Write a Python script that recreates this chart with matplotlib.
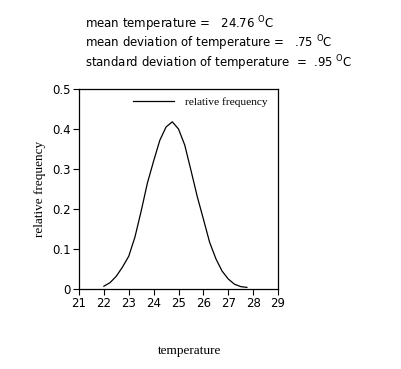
import numpy as np
import matplotlib
matplotlib.use("Agg")
import matplotlib.pyplot as plt

# Valores
temperatura = [22.0, 22.25, 22.5, 22.75, 23.0, 23.25, 23.5, 23.75, 24.0, 24.25,
               24.5, 24.75, 25.0, 25.25, 25.5, 25.75, 26.0, 26.25, 26.5, 26.75,
               27.0, 27.25, 27.5, 27.75]
frequencia = [0.007, 0.016, 0.032, 0.055, 0.082, 0.13, 0.195, 0.265, 0.32, 0.372,
              0.405, 0.418, 0.40, 0.36, 0.297, 0.232, 0.175, 0.117, 0.076, 0.045,
              0.025, 0.012, 0.006, 0.004]

x_ticks = [21, 22, 23, 24, 25, 26, 27, 28, 29]
y_ticks = [0, 0.1, 0.2, 0.3, 0.4, 0.5]
y_labels = ["0", "0.1", "0.2", "0.3", "0.4", "0.5"]

linhas_topo = [
    "mean temperature =   24.76 $^{\\mathrm{O}}$C",
    "mean deviation of temperature =   .75 $^{\\mathrm{O}}$C",
    "standard deviation of temperature  =  .95 $^{\\mathrm{O}}$C",
]

serifa = "Liberation Serif"

fig = plt.figure(figsize=(4.01, 3.69), dpi=100)
ax = fig.add_axes([79/401, 1-289/369, 199/401, 200/369])

ax.plot(temperatura, frequencia, color="black", lw=0.9, label="relative frequency")

ax.set_xlim(21, 29)
ax.set_ylim(0, 0.5)
ax.set_xticks(x_ticks)
ax.set_yticks(y_ticks)
ax.set_yticklabels(y_labels)
ax.tick_params(direction="out", length=4, width=0.8, labelsize=8.5, pad=2)
for s in ax.spines.values():
    s.set_linewidth(0.9)

ax.set_ylabel("relative frequency", family=serifa, fontsize=9.5, labelpad=4)
fig.text(190/401, 1-351/369, "temperature", family=serifa, fontsize=9.5,
         ha="center", va="center")

ax.legend(loc="upper right", bbox_to_anchor=(0.99, 1.0), frameon=False,
          prop={"family": serifa, "size": 8.2}, handlelength=3.6, handletextpad=1.0,
          borderaxespad=0.3)

for i, texto in enumerate(linhas_topo):
    fig.text(85/401, 1-(24 + 19.5*i)/369, texto, fontsize=8.5, ha="left", va="center")

plt.savefig("out.png", dpi=100)
